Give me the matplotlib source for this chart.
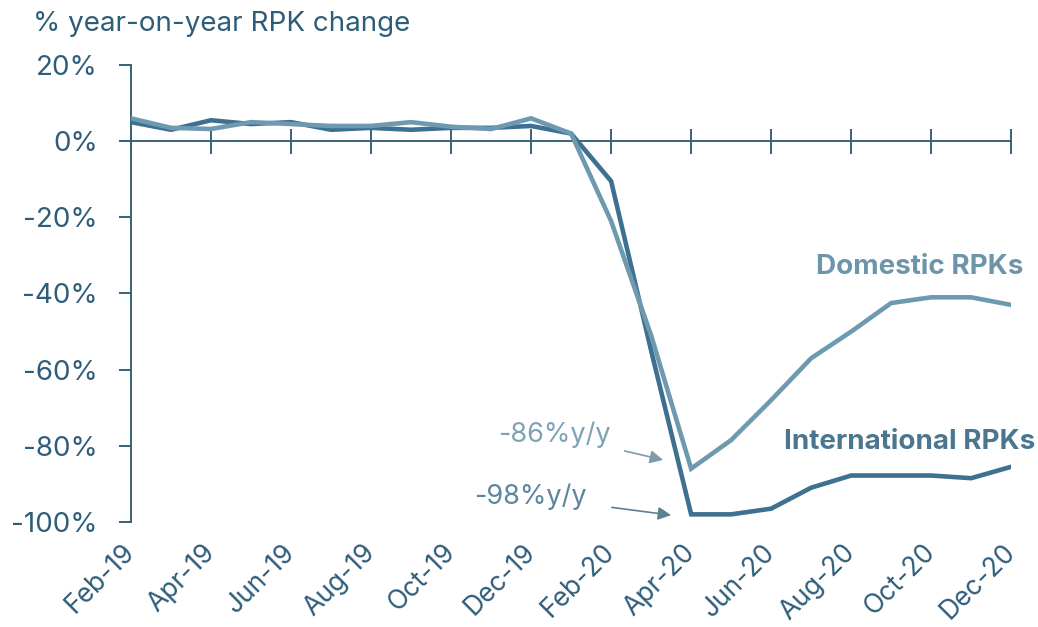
import matplotlib
matplotlib.use("Agg")
import matplotlib.pyplot as plt

# monthly series, Feb-19 .. Dec-20
months = ["Feb-19", "Mar-19", "Apr-19", "May-19", "Jun-19", "Jul-19", "Aug-19",
          "Sep-19", "Oct-19", "Nov-19", "Dec-19", "Jan-20", "Feb-20", "Mar-20",
          "Apr-20", "May-20", "Jun-20", "Jul-20", "Aug-20", "Sep-20", "Oct-20",
          "Nov-20", "Dec-20"]
international = [5, 3, 5.5, 4.5, 5, 3, 3.5, 3, 3.5, 3.5, 4, 2, -10.5, -55,
                 -98, -98, -96.5, -91, -87.8, -87.8, -87.8, -88.5, -85.5]
domestic = [6, 3.5, 3.2, 5, 4.5, 4, 4, 5, 3.8, 3.2, 6, 2, -21, -51,
            -86, -78.5, -68, -57, -50, -42.5, -41, -41, -43]
yticks = [20, 0, -20, -40, -60, -80, -100]

dark = "#3e7090"
light = "#6d9ab1"
axcol = "#3b6178"
txtcol = "#2f5d79"

plt.rcParams["font.family"] = ["Inter", "DejaVu Sans"]

fig = plt.figure(figsize=(10.38, 6.27), dpi=100)
ax = fig.add_axes([0.1262, 0.1675, 0.848, 0.7288])

x = list(range(len(months)))
ax.plot(x, international, color=dark, lw=3.3, solid_joinstyle="miter", zorder=3)
ax.plot(x, domestic, color=light, lw=3.3, solid_joinstyle="miter", zorder=4)

ax.set_xlim(0, len(months) - 1)
ax.set_ylim(-100, 20)

for s in ["top", "right", "bottom"]:
    ax.spines[s].set_visible(False)
ax.spines["left"].set_color(axcol)
ax.spines["left"].set_linewidth(1.4)

ax.set_yticks(yticks)
ax.set_yticklabels([f"{v}%" for v in yticks])
ax.tick_params(axis="y", direction="out", length=9, width=1.4, color=axcol,
               pad=15, labelsize=20, labelcolor=txtcol)

# month labels along the bottom, ticks on the zero line
ax.set_xticks(x[::2])
ax.set_xticklabels(months[::2], rotation=45, ha="right", va="center",
                   rotation_mode="anchor")
ax.tick_params(axis="x", length=0, pad=19, labelsize=19, labelcolor=txtcol)

zero = ax.secondary_xaxis(100 / 120)
zero.set_xticks(x[::2])
zero.set_xticklabels([])
for s in zero.spines.values():
    s.set_visible(False)
zero.tick_params(axis="x", direction="inout", length=18, width=1.4, color=axcol)
ax.plot([-0.22, len(months) - 1], [0, 0], color=axcol, lw=1.4, clip_on=False,
        zorder=2)

fig.text(0.032, 0.962, "% year-on-year RPK change", fontsize=20, color=txtcol,
         va="center", ha="left")

ax.text(22.3, -33, "Domestic RPKs", fontsize=20, fontweight="bold",
        color="#6d95aa", ha="right", va="center")
ax.text(22.6, -79, "International RPKs", fontsize=20, fontweight="bold",
        color="#4c7690", ha="right", va="center")

ax.annotate("-86%y/y", xy=(13.3, -83.7), xytext=(12.0, -77.1), fontsize=19.5,
            color="#7ea2b6", ha="right", va="center",
            arrowprops=dict(arrowstyle="-|>", color="#7e9aab", lw=1.2,
                            shrinkA=8, shrinkB=0))
ax.annotate("-98%y/y", xy=(13.5, -98.2), xytext=(11.4, -93.4), fontsize=19.5,
            color="#5c869d", ha="right", va="center",
            arrowprops=dict(arrowstyle="-|>", color="#607f92", lw=1.2,
                            shrinkA=16, shrinkB=0))

fig.savefig("out.png", dpi=100)
